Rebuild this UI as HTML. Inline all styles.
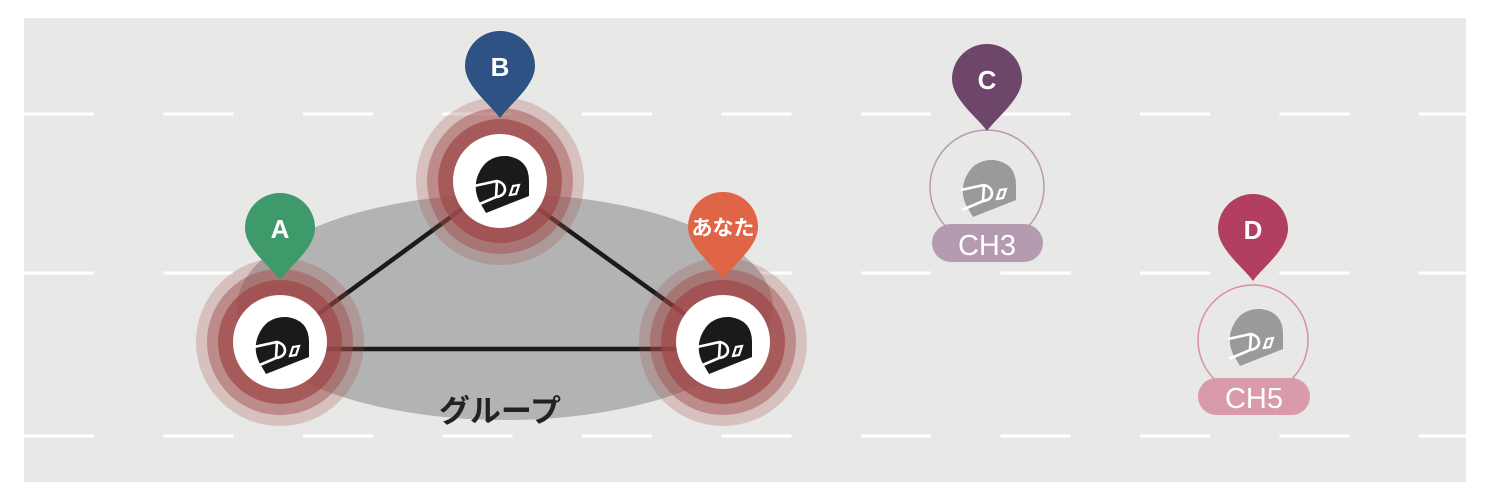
<!DOCTYPE html>
<html><head><meta charset="utf-8"><style>
html,body{margin:0;padding:0;background:#fff;}
svg{display:block;}
text{font-family:"Liberation Sans","Noto Sans CJK JP",sans-serif;}
</style></head><body>
<svg width="1488" height="502" viewBox="0 0 1488 502" xmlns="http://www.w3.org/2000/svg">
<defs>
<g id="helm">
<path d="M9,22 Q17,2 38,3 Q60,6 60,28 L60,43 L17,60 L10,48 Q4,35 9,22 Z"/>
<path d="M5,33 L28,28 Q36,30 36,37 Q35,43 27,44 L6,53" fill="none" stroke="#fff" stroke-width="2.6"/>
<path d="M28,28 L27,44" fill="none" stroke="#fff" stroke-width="2.6"/>
<path d="M44,33 L50,32 L47,41 L41,42 Z" fill="none" stroke="#fff" stroke-width="2.2"/>
</g>
<path id="pin" d="M0,52 C-10,38 -35,20 -35,0 A35,35 0 1,1 35,0 C35,20 10,38 0,52 Z"/>
<g id="rings">
<circle r="84" fill="#a04a4a" opacity="0.25"/>
<circle r="73" fill="#a04a4a" opacity="0.45"/>
<circle r="62" fill="#a04a4a" opacity="0.75"/>
</g>
</defs>
<rect x="24" y="18" width="1442" height="464" fill="#e8e8e6"/>
<g stroke="#fff" stroke-width="3">
<line x1="24" y1="114" x2="1466" y2="114" stroke-dasharray="70 69.5"/>
<line x1="24" y1="273" x2="1466" y2="273" stroke-dasharray="70 69.5"/>
<line x1="24" y1="436" x2="1466" y2="436" stroke-dasharray="70 69.5"/>
</g>
<ellipse cx="505" cy="307" rx="268" ry="113" fill="#b2b3b2"/>
<g stroke="#1a1a1a" stroke-width="4.5">
<line x1="280" y1="342" x2="500" y2="181"/>
<line x1="280" y1="349" x2="723" y2="349"/>
<line x1="500" y1="181" x2="723" y2="342"/>
</g>
<use href="#rings" x="280" y="342"/>
<use href="#rings" x="500" y="181"/>
<use href="#rings" x="723" y="342"/>
<circle cx="280" cy="342" r="47" fill="#fff"/>
<circle cx="500" cy="181" r="47" fill="#fff"/>
<circle cx="723" cy="342" r="47" fill="#fff"/>
<use href="#helm" x="249" y="314" fill="#1a1a1a"/>
<use href="#helm" x="469" y="153" fill="#1a1a1a"/>
<use href="#helm" x="692" y="314" fill="#1a1a1a"/>
<text x="500" y="422" text-anchor="middle" font-size="31" font-weight="bold" fill="#222">グループ</text>
<circle cx="987" cy="187" r="57" fill="none" stroke="#b89aae" stroke-width="1.5"/>
<use href="#helm" x="956" y="157" fill="#9a9a9a"/>
<rect x="932" y="224" width="111" height="38" rx="19" fill="#b59bb0"/>
<text x="987" y="255" text-anchor="middle" font-size="29" fill="#fff">CH3</text>
<circle cx="1253" cy="340" r="55" fill="none" stroke="#d690a6" stroke-width="1.5"/>
<use href="#helm" x="1223" y="306" fill="#9a9a9a"/>
<rect x="1198" y="378" width="112" height="37" rx="18.5" fill="#d99bac"/>
<text x="1254" y="408" text-anchor="middle" font-size="29" fill="#fff">CH5</text>
<use href="#pin" x="280" y="228" fill="#3e9a6b"/>
<use href="#pin" x="500" y="66" fill="#2d5283"/>
<use href="#pin" x="723" y="227" fill="#e06446"/>
<use href="#pin" x="987" y="79" fill="#6f466b"/>
<use href="#pin" x="1253" y="229" fill="#b23f62"/>
<g fill="#fff" font-weight="bold" text-anchor="middle">
<text x="280" y="238" font-size="26">A</text>
<text x="500" y="76" font-size="26">B</text>
<text x="987" y="89" font-size="26">C</text>
<text x="1253" y="239" font-size="26">D</text>
<text x="723" y="235" font-size="21">あなた</text>
</g>
</svg>
</body></html>
